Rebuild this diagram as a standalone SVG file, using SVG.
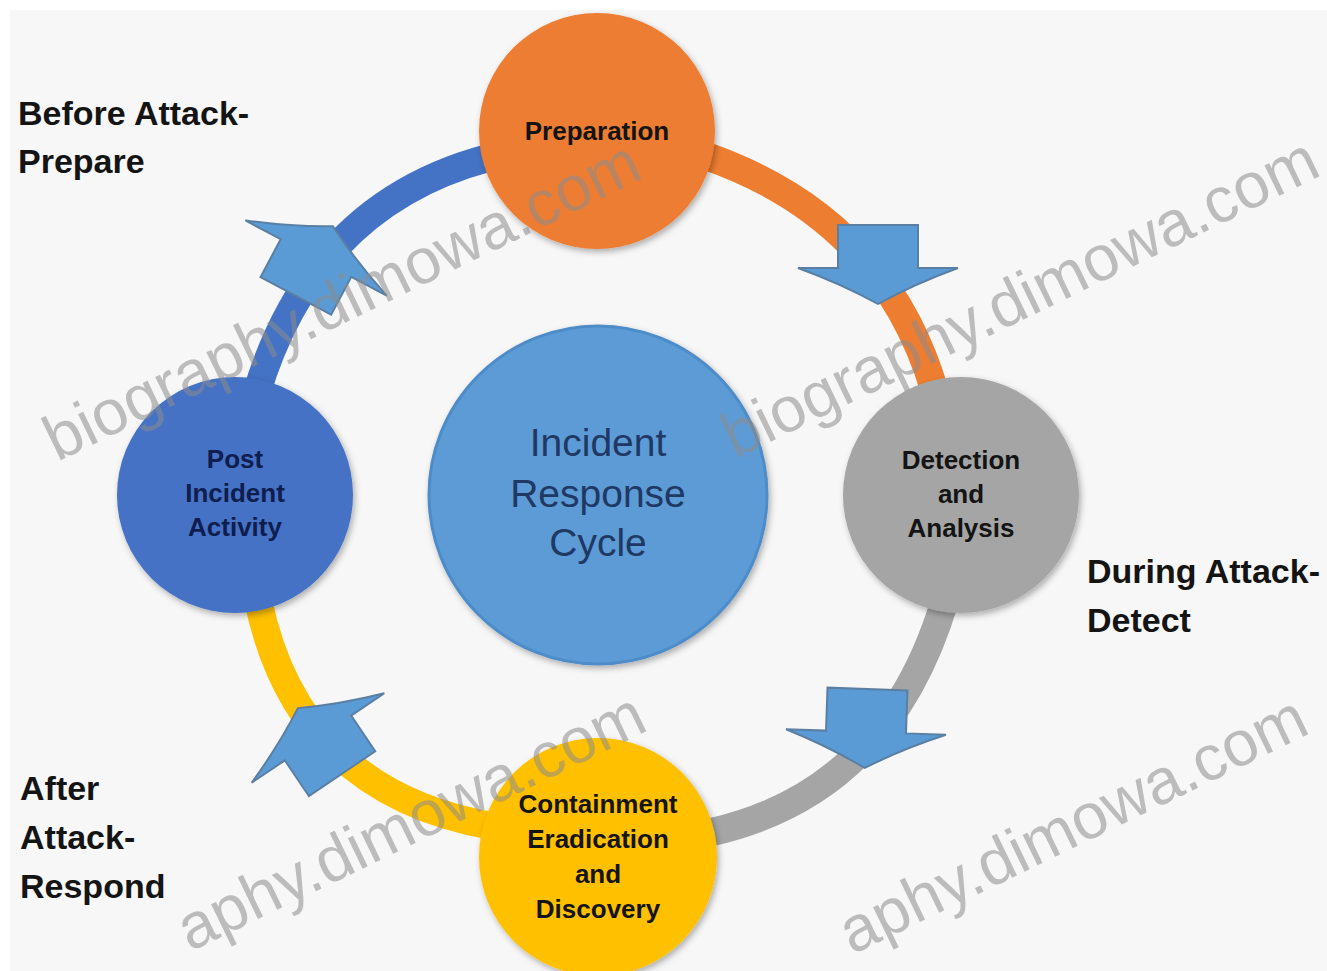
<svg xmlns="http://www.w3.org/2000/svg" width="1327" height="971" viewBox="0 0 1327 971">
  <style>
    .arc { fill: none; stroke-width: 28; stroke-linecap: butt; }
    .arrow { fill: #5b9bd5; stroke: #5a7fa3; stroke-width: 2; stroke-linejoin: miter; }
    .node { filter: url(#shadow); }
    .lbl { font-family: "Liberation Sans", Arial, sans-serif; font-weight: bold; font-size: 34px; fill: #141414; }
    .ntxt { font-family: "Liberation Sans", Arial, sans-serif; font-weight: bold; font-size: 26px; fill: #141414; text-anchor: middle; }
    .ctxt { font-family: "Liberation Sans", Arial, sans-serif; font-size: 39px; fill: #1f3864; text-anchor: middle; }
    .wm { font-family: "Liberation Sans", Arial, sans-serif; font-size: 64px; fill: #8c8c8c; opacity: 0.55; }
  </style>
  <defs>
    <filter id="shadow" x="-20%" y="-20%" width="140%" height="140%">
      <feDropShadow dx="2" dy="3" stdDeviation="3" flood-color="#000" flood-opacity="0.3"/>
    </filter>
    <path id="arr" d="M-43,-40 L0,-40 L0,-80 Q16,-36 36,0 Q16,36 0,80 L0,40 L-43,40 Z"/>
  </defs>

  <rect x="0" y="0" width="1327" height="971" fill="#ffffff"/>
  <rect x="10" y="10" width="1317" height="961" fill="#f7f7f7"/>

  <g id="connectors">
    <path class="arc" stroke="#4472c4" d="M488,158 Q312,205 256,395"/>
    <path class="arc" stroke="#ed7d31" d="M706,156 Q884,218 935,392"/>
    <path class="arc" stroke="#a5a5a5" d="M945,600 Q888,792 712,832"/>
    <path class="arc" stroke="#ffc000" d="M258,600 Q298,792 492,826"/>
    <use href="#arr" class="arrow" transform="translate(316,258) rotate(-62)"/>
    <use href="#arr" class="arrow" transform="translate(878,268) rotate(90)"/>
    <use href="#arr" class="arrow" transform="translate(866,732) rotate(92)"/>
    <use href="#arr" class="arrow" transform="translate(318,738) rotate(-124)"/>
  </g>

  <g id="center">
    <circle class="node" cx="598" cy="495" r="169" fill="#5b9bd5" stroke="#4d8cc8" stroke-width="3"/>
    <text class="ctxt" x="598" y="456">Incident</text>
    <text class="ctxt" x="598" y="507">Response</text>
    <text class="ctxt" x="598" y="556">Cycle</text>
  </g>

  <g id="preparation">
    <circle class="node" cx="597" cy="131" r="118" fill="#ed7d31"/>
    <text class="ntxt" x="597" y="140">Preparation</text>
  </g>

  <g id="detection">
    <circle class="node" cx="961" cy="495" r="118" fill="#a5a5a5"/>
    <text class="ntxt" x="961" y="469">Detection</text>
    <text class="ntxt" x="961" y="503">and</text>
    <text class="ntxt" x="961" y="537">Analysis</text>
  </g>

  <g id="containment">
    <circle class="node" cx="598" cy="857" r="119" fill="#ffc000"/>
    <text class="ntxt" x="598" y="813">Containment</text>
    <text class="ntxt" x="598" y="848">Eradication</text>
    <text class="ntxt" x="598" y="883">and</text>
    <text class="ntxt" x="598" y="918">Discovery</text>
  </g>

  <g id="post-incident">
    <circle class="node" cx="235" cy="495" r="118" fill="#4472c4"/>
    <text class="ntxt" x="235" y="468" style="fill:#0f1d4f">Post</text>
    <text class="ntxt" x="235" y="502" style="fill:#0f1d4f">Incident</text>
    <text class="ntxt" x="235" y="536" style="fill:#0f1d4f">Activity</text>
  </g>

  <g id="labels">
    <text class="lbl" x="18" y="125">Before Attack-</text>
    <text class="lbl" x="18" y="173">Prepare</text>
    <text class="lbl" x="1087" y="583">During Attack-</text>
    <text class="lbl" x="1087" y="632">Detect</text>
    <text class="lbl" x="20" y="800">After</text>
    <text class="lbl" x="20" y="849">Attack-</text>
    <text class="lbl" x="20" y="898">Respond</text>
  </g>

  <g id="watermarks">
    <text class="wm" transform="translate(57,462) rotate(-25.8)">biography.dimowa.com</text>
    <text class="wm" transform="translate(735,459) rotate(-25.8)">biography.dimowa.com</text>
    <text class="wm" transform="translate(190,952) rotate(-25.8)">aphy.dimowa.com</text>
    <text class="wm" transform="translate(852,955) rotate(-25.8)">aphy.dimowa.com</text>
  </g>
</svg>
